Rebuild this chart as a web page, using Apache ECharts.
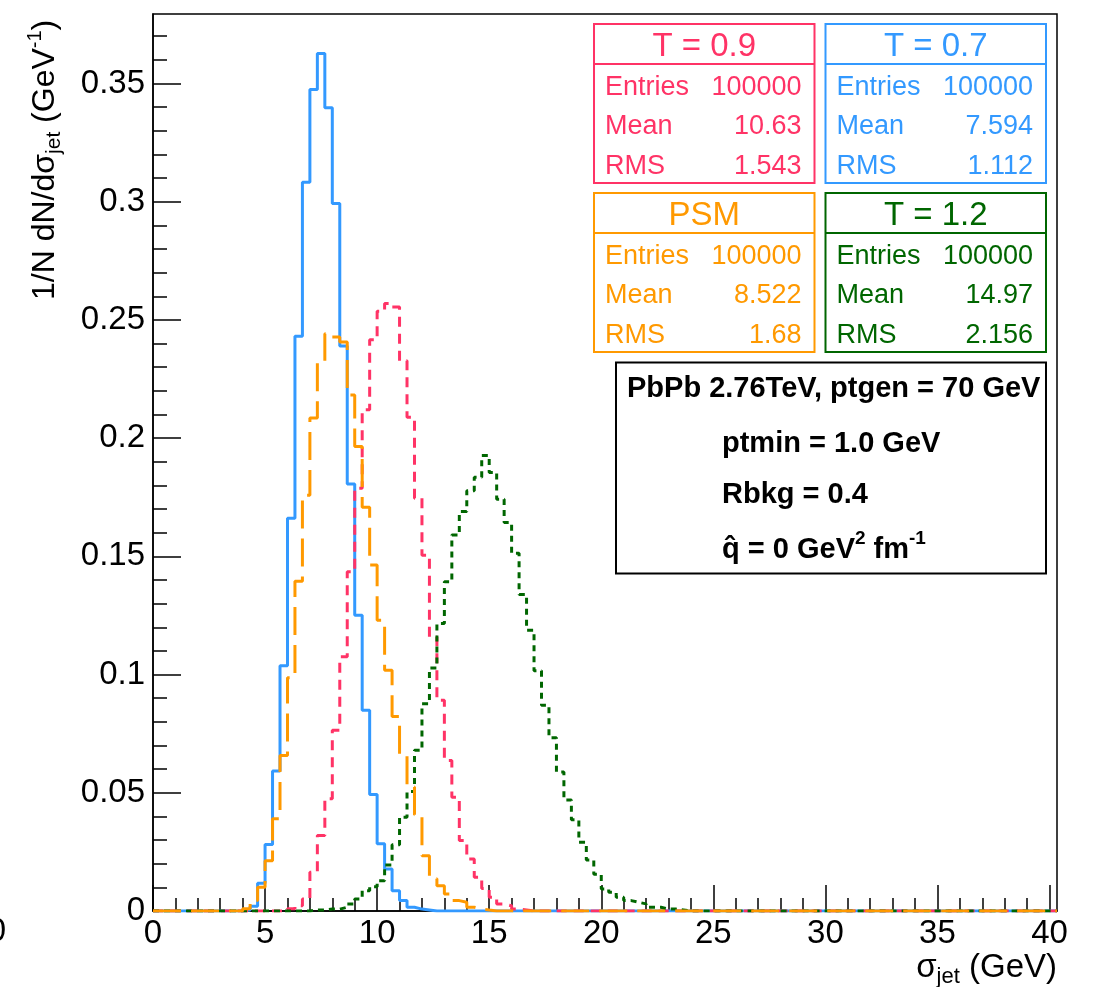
<!DOCTYPE html>
<html>
<head>
<meta charset="utf-8">
<script src="https://cdn.jsdelivr.net/npm/echarts@6/dist/echarts.min.js"></script>
<style>
html,body{margin:0;padding:0;background:#fff;}
#chart{width:1094px;height:987px;}
</style>
</head>
<body>
<div id="chart"></div>
<script>
// ---------------- data ----------------
const binWidth = 1 / 3;           // GeV per bin
const nBins = 121;                // 0 .. 40.33 GeV
const xMajorTicks = [0, 5, 10, 15, 20, 25, 30, 35, 40];
const yMajorTicks = [0, 0.05, 0.1, 0.15, 0.2, 0.25, 0.3, 0.35];
const yMax = 0.3794;

// T = 0.7 (blue), first bin starts at 4.0 GeV
const t07Start = 4.0;
const t07 = [0.0004, 0.002, 0.0117, 0.0281, 0.0592, 0.1037, 0.1661, 0.2431, 0.3082, 0.3475,
             0.3627, 0.3397, 0.2993, 0.239, 0.1806, 0.1251, 0.0849, 0.0493, 0.0284, 0.0178,
             0.0086, 0.0044, 0.0016, 0.0008, 0.0004];

// PSM (orange), first bin starts at 4.0 GeV
const psmStart = 4.0;
const psm = [0.001, 0.0044, 0.010, 0.0213, 0.039, 0.0658, 0.0987, 0.1395, 0.1759, 0.2085,
             0.2325, 0.2442, 0.2428, 0.2407, 0.2183, 0.1965, 0.1708, 0.1463, 0.123, 0.1018,
             0.0823, 0.0662, 0.0524, 0.0407, 0.0234, 0.0136, 0.0107, 0.0072, 0.0044, 0.0037,
             0.0016, 0.0008, 0.0004];

// T = 0.9 (pink), first bin starts at 6.0 GeV
const t09Start = 6.0;
const t09 = [0.001, 0.0022, 0.0051, 0.0164, 0.0319, 0.0475, 0.0764, 0.1075, 0.1435, 0.1788,
             0.212, 0.2416, 0.2537, 0.2569, 0.2555, 0.2327, 0.2088, 0.1746, 0.1505, 0.1159,
             0.0891, 0.0637, 0.0481, 0.0298, 0.022, 0.0143, 0.0095, 0.0058, 0.003, 0.0022,
             0.0008, 0.0004];

// T = 1.2 (green), first bin starts at 7.0 GeV
const t12Start = 7.0;
const t12 = [0.0004, 0.0004, 0.0008, 0.0008, 0.0016, 0.003, 0.0051, 0.0086, 0.0103, 0.0128,
             0.0195, 0.028, 0.0397, 0.0505, 0.068, 0.0877, 0.1028, 0.1216, 0.1393, 0.159,
             0.169, 0.1778, 0.1835, 0.1927, 0.1855, 0.1742, 0.1643, 0.1513, 0.1339, 0.1188,
             0.1016, 0.087, 0.0733, 0.0588, 0.047, 0.0386, 0.0291, 0.0216, 0.0155, 0.0093,
             0.0079, 0.0058, 0.0044, 0.0037, 0.003, 0.0016, 0.0016, 0.0008, 0.0008, 0.0004];

// stat boxes
const statTitles  = ['T = 0.9', 'T = 0.7', 'PSM', 'T = 1.2'];
const statEntries = ['100000', '100000', '100000', '100000'];
const statMeans   = ['10.63', '7.594', '8.522', '14.97'];
const statRMS     = ['1.543', '1.112', '1.68', '2.156'];

// info box lines
const infoLines = ['PbPb 2.76TeV, ptgen = 70 GeV', 'ptmin = 1.0 GeV', 'Rbkg = 0.4'];
const qhatLine = ['q\u0302 = 0 GeV', '2', ' fm', '-1'];

// ---------------- styles ----------------
const C_T09 = '#ff3366', C_T07 = '#3399ff', C_PSM = '#ff9900', C_T12 = '#006600';
const statColors = [C_T09, C_T07, C_PSM, C_T12];
const FONT = '"Liberation Sans", Arial, Helvetica, sans-serif';

function histSteps(start, vals) {
  const full = new Array(nBins).fill(0);
  const off = Math.round(start / binWidth);
  vals.forEach((v, i) => { full[off + i] = v; });
  const d = full.map((v, i) => [i * binWidth, v]);
  d.push([nBins * binWidth, full[nBins - 1]]);
  return d;
}

const xMinor = [];
for (let i = 0; i <= 40; i++) xMinor.push(i);
const yMinor = [];
for (let i = 0; i <= 37; i++) yMinor.push(i / 100);

const chart = echarts.init(document.getElementById('chart'), null, {renderer: 'canvas'});

const G = { left: 153, right: 37, top: 14, bottom: 76 };
const xMaxVal = nBins * binWidth;

function hs(d, color, type) {
  return {
    type: 'line', step: 'end', symbol: 'none', data: d,
    xAxisIndex: 0, yAxisIndex: 0, clip: true,
    lineStyle: { color: color, width: 3, type: type },
    emphasis: { disabled: true }, silent: true
  };
}

// ---------------- graphic (stat boxes, info, titles) ----------------
const graphics = [];
const boxLefts = [594, 825.5], boxTops = [24, 193];
const boxW = 220.5, boxH = 159, titleH = 40;
statTitles.forEach((t, k) => {
  const bx = boxLefts[k % 2], by = boxTops[Math.floor(k / 2)];
  const col = statColors[k];
  graphics.push({ type: 'rect', z: 100, shape: { x: bx, y: by, width: boxW, height: boxH },
    style: { fill: '#fff', stroke: col, lineWidth: 2 } });
  graphics.push({ type: 'line', z: 101, shape: { x1: bx, y1: by + titleH, x2: bx + boxW, y2: by + titleH },
    style: { stroke: col, lineWidth: 2 } });
  graphics.push({ type: 'text', z: 102, x: bx + boxW / 2, y: by + 23,
    style: { text: t, fill: col, font: '33px ' + FONT, align: 'center', verticalAlign: 'middle' } });
  const rows = [['Entries', statEntries[k]], ['Mean', statMeans[k]], ['RMS', statRMS[k]]];
  rows.forEach((r, j) => {
    const ry = by + 63.5 + j * 39.3;
    graphics.push({ type: 'text', z: 102, x: bx + 11, y: ry,
      style: { text: r[0], fill: col, font: '27px ' + FONT, align: 'left', verticalAlign: 'middle' } });
    graphics.push({ type: 'text', z: 102, x: bx + boxW - 13, y: ry,
      style: { text: r[1], fill: col, font: '27px ' + FONT, align: 'right', verticalAlign: 'middle' } });
  });
});

// info box
graphics.push({ type: 'rect', z: 100, shape: { x: 616, y: 362.5, width: 430, height: 211 },
  style: { fill: '#fff', stroke: '#000', lineWidth: 2 } });
const infoX = [627, 722, 722];
const infoY = [389, 444, 494.5];
infoLines.forEach((t, i) => {
  graphics.push({ type: 'text', z: 102, x: infoX[i], y: infoY[i],
    style: { text: t, fill: '#000', font: 'bold 29px ' + FONT, align: 'left', verticalAlign: 'middle' } });
});
graphics.push({ type: 'text', z: 102, x: 722, y: 549.5,
  style: {
    text: '{b|' + qhatLine[0] + '}{p|' + qhatLine[1] + '}{b|' + qhatLine[2] + '}{p|' + qhatLine[3] + '}',
    align: 'left', verticalAlign: 'middle',
    rich: {
      b: { fontFamily: FONT, fontWeight: 'bold', fontSize: 29, lineHeight: 40, verticalAlign: 'middle', fill: '#000', color: '#000' },
      p: { fontFamily: FONT, fontWeight: 'bold', fontSize: 19, lineHeight: 19, verticalAlign: 'top', fill: '#000', color: '#000' }
    }
  } });

// x-axis title
graphics.push({ type: 'text', z: 102, x: 1057, y: 968,
  style: {
    text: '{a|\u03c3}{s|jet}{a| (GeV)}',
    align: 'right', verticalAlign: 'middle',
    rich: {
      a: { fontFamily: FONT, fontSize: 33, lineHeight: 40, verticalAlign: 'middle', fill: '#000', color: '#000' },
      s: { fontFamily: FONT, fontSize: 22, lineHeight: 21, verticalAlign: 'bottom', fill: '#000', color: '#000' }
    }
  } });

// y-axis title (rotated)
graphics.push({ type: 'text', z: 102, x: 45, y: 300, rotation: Math.PI / 2,
  style: {
    text: '{a|1/N dN/d\u03c3}{s|jet}{a| (GeV}{p|-1}{a|)}',
    align: 'left', verticalAlign: 'middle',
    rich: {
      a: { fontFamily: FONT, fontSize: 32, lineHeight: 40, verticalAlign: 'middle', fill: '#000', color: '#000' },
      s: { fontFamily: FONT, fontSize: 21, lineHeight: 21, verticalAlign: 'bottom', fill: '#000', color: '#000' },
      p: { fontFamily: FONT, fontSize: 20, lineHeight: 18, verticalAlign: 'top', fill: '#000', color: '#000' }
    }
  } });

// clipped label at far left edge
graphics.push({ type: 'text', z: 102, x: 6, y: 932,
  style: { text: '0', fill: '#000', font: '33px ' + FONT, align: 'right', verticalAlign: 'middle' } });

const option = {
  animation: false,
  backgroundColor: '#fff',
  grid: { left: G.left, right: G.right, top: G.top, bottom: G.bottom, show: true,
          borderColor: '#000', borderWidth: 1.5, backgroundColor: 'transparent',
          containLabel: false, outerBoundsMode: 'none' },
  xAxis: [
    { type: 'value', min: 0, max: xMaxVal, interval: 5, position: 'bottom',
      axisLine: { show: true, onZero: false, lineStyle: { color: '#000', width: 1.5 } },
      axisTick: { show: true, inside: true, length: 26, lineStyle: { color: '#000', width: 1.5 },
                  customValues: xMajorTicks },
      axisLabel: { show: true, margin: 6, color: '#000', fontFamily: FONT, fontSize: 33,
                   customValues: xMajorTicks,
                   formatter: v => (Math.abs(v / 5 - Math.round(v / 5)) < 1e-6 ? String(Math.round(v)) : '') },
      splitLine: { show: false } },
    { type: 'value', min: 0, max: xMaxVal, interval: 1, position: 'bottom', offset: 0,
      axisLine: { show: false },
      axisTick: { show: true, inside: true, length: 13, lineStyle: { color: '#000', width: 1.5 },
                  customValues: xMinor },
      axisLabel: { show: false }, splitLine: { show: false } }
  ],
  yAxis: [
    { type: 'value', min: 0, max: yMax, interval: 0.05, position: 'left',
      axisLine: { show: true, onZero: false, lineStyle: { color: '#000', width: 1.5 } },
      axisTick: { show: true, inside: true, length: 28, lineStyle: { color: '#000', width: 1.5 },
                  customValues: yMajorTicks },
      axisLabel: { show: true, margin: 8, color: '#000', fontFamily: FONT, fontSize: 33,
                   customValues: yMajorTicks,
                   formatter: v => (Math.abs(v / 0.05 - Math.round(v / 0.05)) < 1e-6 ? String(+v.toFixed(2)) : '') },
      splitLine: { show: false } },
    { type: 'value', min: 0, max: yMax, interval: 0.01, position: 'left', offset: 0,
      axisLine: { show: false },
      axisTick: { show: true, inside: true, length: 14, lineStyle: { color: '#000', width: 1.5 },
                  customValues: yMinor },
      axisLabel: { show: false }, splitLine: { show: false } }
  ],
  series: [
    hs(histSteps(t07Start, t07), C_T07, 'solid'),
    hs(histSteps(t09Start, t09), C_T09, [10, 7]),
    hs(histSteps(t12Start, t12), C_T12, [6, 5]),
    hs(histSteps(psmStart, psm), C_PSM, [28, 10])
  ],
  graphic: graphics
};
chart.setOption(option);
</script>
</body>
</html>
